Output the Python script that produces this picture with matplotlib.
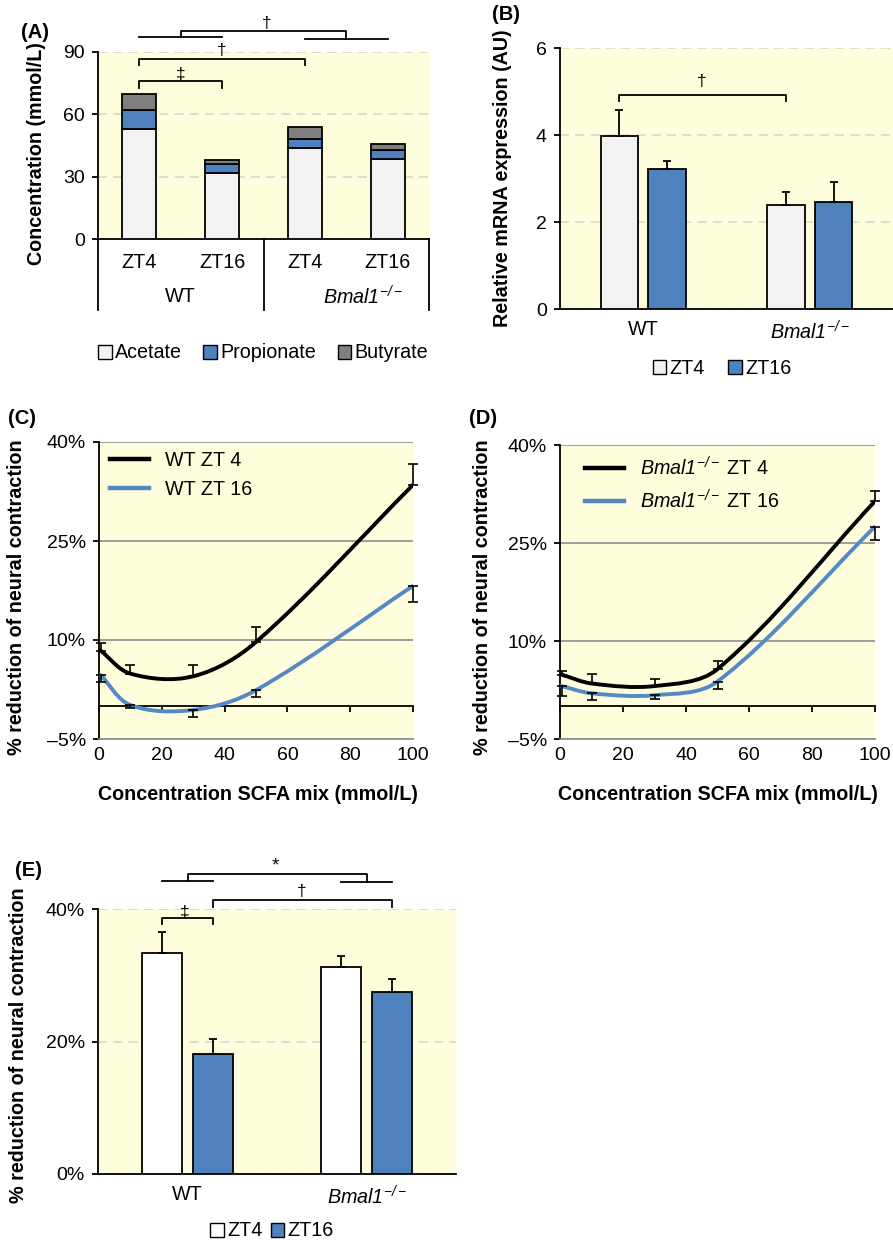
import numpy as np
import matplotlib
matplotlib.use('Agg')
import matplotlib.pyplot as plt
from matplotlib.path import Path
from matplotlib.patches import PathPatch, Patch
from matplotlib.lines import Line2D

plt.rcParams['font.family'] = ['Liberation Sans', 'DejaVu Sans']
plt.rcParams['mathtext.fontset'] = 'custom'
# mathtext only used for the italic gene name, digits included
plt.rcParams['mathtext.rm'] = 'Liberation Sans:italic'
plt.rcParams['mathtext.it'] = 'Liberation Sans:italic'
plt.rcParams['mathtext.bf'] = 'Liberation Sans:bold'
plt.rcParams['font.size'] = 14

KO = r'$\mathit{Bmal1}^{-/-}$'

# ---- data ----
# (A) faecal SCFA concentrations
scfa_times = ['ZT4', 'ZT16', 'ZT4', 'ZT16']
scfa_genos = ['WT', KO]
acetate = [53.0, 32.0, 43.6, 38.5]
propionate = [9.0, 4.3, 4.6, 4.2]
butyrate = [7.8, 1.6, 5.8, 2.8]

# (B) relative mRNA expression
genotypes = ['WT', KO]
mrna_zt4 = [3.97, 2.38]
mrna_zt4_err = [0.60, 0.31]
mrna_zt16 = [3.22, 2.47]
mrna_zt16_err = [0.18, 0.46]

# (C), (D) dose response
conc = [0.5, 10, 30, 50, 100]
wt_zt4 = [8.4, 4.9, 4.5, 9.7, 33.5]
wt_zt4_err = [1.1, 1.3, 1.7, 2.2, 3.2]
wt_zt16 = [4.7, 0.15, -0.6, 2.4, 18.2]
wt_zt16_err = [1.0, 0.5, 1.0, 1.0, 2.4]
ko_zt4 = [4.85, 3.5, 3.1, 5.7, 31.4]
ko_zt4_err = [0.55, 1.4, 1.1, 1.2, 1.6]
ko_zt16 = [3.1, 2.0, 1.7, 3.8, 27.5]
ko_zt16_err = [1.5, 1.1, 0.6, 1.2, 2.0]

# (E) reduction of neural contraction at 100 mmol/L
contr_zt4 = [33.4, 31.3]
contr_zt4_err = [3.2, 1.6]
contr_zt16 = [18.1, 27.4]
contr_zt16_err = [2.3, 2.0]

BG = '#fefedc'
BLUE = '#4f81bd'
LINE_BLUE = '#5489c6'
LIGHT = '#f2f2f2'
DARK = '#7f7f7f'
LW = 1.3
FS_TICK = 14
FS_LAB = 14.2

W, H = 893, 1240
fig = plt.figure(figsize=(W / 100, H / 100), dpi=100)


def add_axes_px(left, top, right, bottom):
    return fig.add_axes([left / W, 1 - bottom / H, (right - left) / W, (bottom - top) / H])


def style_bar_axes(ax):
    ax.set_facecolor(BG)
    for s in ['top', 'right']:
        ax.spines[s].set_visible(False)
    ax.spines['left'].set_linewidth(LW)
    ax.spines['bottom'].set_linewidth(LW)
    ax.tick_params(axis='y', direction='out', length=4.5, width=LW, labelsize=FS_TICK, pad=5)
    ax.tick_params(axis='x', length=0, labelsize=FS_TICK, pad=8)
    ax.yaxis.grid(True, linestyle=(0, (6, 4)), color='#d4d4d4', lw=1.1)
    ax.set_axisbelow(True)


def bracket(ax, x0, x1, y, drop):
    ax.plot([x0, x0, x1, x1], [y - drop, y, y, y - drop], color='black', lw=LW, clip_on=False)


def smooth_path(ax, xs, ys, xspan, yspan):
    # Excel-like smoothed line: cubic bezier through each point
    pos = ax.get_position()
    sx = pos.width * W / xspan
    sy = pos.height * H / yspan
    P = np.column_stack([np.asarray(xs, float) * sx, np.asarray(ys, float) * sy])
    n = len(P)
    verts = [P[0]]
    codes = [Path.MOVETO]
    for i in range(n - 1):
        p0 = P[max(i - 1, 0)]
        p1, p2 = P[i], P[i + 1]
        p3 = P[min(i + 2, n - 1)]
        arm = np.linalg.norm(p2 - p1) / 3
        t1 = (p2 - p0) / np.linalg.norm(p2 - p0)
        t2 = (p3 - p1) / np.linalg.norm(p3 - p1)
        verts += [p1 + arm * t1, p2 - arm * t2, p2]
        codes += [Path.CURVE4] * 3
    verts = np.array(verts) / [sx, sy]
    return Path(verts, codes)


# ---------------- (A) ----------------
axA = add_axes_px(98, 52, 429, 239)
style_bar_axes(axA)
xa = np.arange(len(acetate))
bw = 0.41
acetate_a = np.array(acetate)
prop_a = np.array(propionate)
axA.bar(xa, acetate_a, bw, color=LIGHT, edgecolor='black', lw=LW, zorder=3)
axA.bar(xa, prop_a, bw, bottom=acetate_a, color=BLUE, edgecolor='black', lw=LW, zorder=3)
axA.bar(xa, butyrate, bw, bottom=acetate_a + prop_a, color=DARK, edgecolor='black', lw=LW, zorder=3)
axA.set_xlim(-0.5, 3.5)
axA.set_ylim(0, 90)
axA.set_yticks([0, 30, 60, 90])
axA.set_xticks([])
tr = axA.get_xaxis_transform()
for i, t in enumerate(scfa_times):
    axA.text(i, -0.123, t, transform=tr, ha='center', va='center', fontsize=FS_LAB)
axA.text(0.5, -0.31, scfa_genos[0], transform=tr, ha='center', va='center', fontsize=FS_LAB)
axA.text(2.7, -0.31, scfa_genos[1], transform=tr, ha='center', va='center', fontsize=FS_LAB)
for xs in [-0.5, 1.5, 3.5]:
    axA.plot([xs, xs], [0, -0.38], transform=tr, color='black', lw=LW, clip_on=False)
bracket(axA, 0, 1, 76.0, 3.2)
axA.text(0.5, 79.5, '\u2021', ha='center', va='center', fontsize=12.5)
bracket(axA, 0, 2, 86.7, 2.8)
axA.text(1.0, 90.5, '\u2020', ha='center', va='center', fontsize=12.5)
axA.plot([0, 1], [97.4, 97.4], color='black', lw=LW, clip_on=False)
axA.plot([2, 3], [96.3, 96.3], color='black', lw=LW, clip_on=False)
axA.plot([0.5, 0.5, 2.5, 2.5], [97.4, 100.3, 100.3, 96.3], color='black', lw=LW, clip_on=False)
axA.text(1.54, 103.5, '\u2020', ha='center', va='center', fontsize=12.5)
fig.text(37 / W, 1 - 154 / H, 'Concentration (mmol/L)', rotation=90, ha='center', va='center',
         fontsize=FS_LAB, fontweight='bold')
fig.text(35 / W, 1 - 33 / H, '(A)', ha='center', va='center', fontsize=14.5, fontweight='bold')
handles = [Patch(facecolor=c, edgecolor='black', lw=1.0) for c in (LIGHT, BLUE, DARK)]
fig.legend(handles, ['Acetate', 'Propionate', 'Butyrate'], loc='center', bbox_to_anchor=(263 / W, 1 - 353 / H),
           ncol=3, frameon=False, fontsize=FS_LAB, handlelength=0.7, handleheight=0.7,
           handletextpad=0.15, columnspacing=1.1, borderpad=0)

# ---------------- (B) ----------------
axB = add_axes_px(560, 48, 893, 309)
style_bar_axes(axB)
xb = np.arange(len(genotypes))
off, bw2 = 0.143, 0.225
ekw = dict(ecolor='black', elinewidth=LW, capsize=2.8, capthick=LW, zorder=4)
axB.bar(xb - off, mrna_zt4, bw2, color=LIGHT, edgecolor='black', lw=LW, zorder=3,
        yerr=[np.zeros(len(mrna_zt4)), mrna_zt4_err], error_kw=ekw)
axB.bar(xb + off, mrna_zt16, bw2, color=BLUE, edgecolor='black', lw=LW, zorder=3,
        yerr=[np.zeros(len(mrna_zt16)), mrna_zt16_err], error_kw=ekw)
axB.set_xlim(-0.5, 1.5)
axB.set_ylim(0, 6)
axB.set_yticks([0, 2, 4, 6])
axB.set_xticks(xb)
axB.set_xticklabels(genotypes, fontsize=FS_LAB)
bracket(axB, -off, 1 - off, 4.93, 0.14)
axB.text(0.353, 5.22, '\u2020', ha='center', va='center', fontsize=12.5)
fig.text(503 / W, 1 - 178 / H, 'Relative mRNA expression (AU)', rotation=90, ha='center', va='center',
         fontsize=FS_LAB, fontweight='bold')
fig.text(506 / W, 1 - 15 / H, '(B)', ha='center', va='center', fontsize=14.5, fontweight='bold')
handles = [Patch(facecolor=c, edgecolor='black', lw=1.0) for c in (LIGHT, BLUE)]
fig.legend(handles, ['ZT4', 'ZT16'], loc='center', bbox_to_anchor=(722 / W, 1 - 368 / H),
           ncol=2, frameon=False, fontsize=FS_LAB, handlelength=0.7, handleheight=0.7,
           handletextpad=0.15, columnspacing=1.2, borderpad=0)


# ---------------- (C), (D) ----------------
def line_panel(ax, s4, e4, s16, e16, labels, anchor):
    ax.set_facecolor(BG)
    ax.set_xlim(0, 100)
    ax.set_ylim(-5, 40)
    ax.set_xticks(range(0, 101, 20))
    ax.set_yticks([-5, 10, 25, 40])
    ax.set_yticklabels(['\u20135%', '10%', '25%', '40%'])
    ax.spines['right'].set_visible(False)
    ax.spines['bottom'].set_color('#8c8c8c')
    ax.spines['bottom'].set_linewidth(1.2)
    ax.spines['left'].set_linewidth(LW)
    ax.spines['top'].set_position(('data', 0))
    ax.spines['top'].set_linewidth(LW)
    ax.tick_params(axis='x', top=True, bottom=False, labeltop=False, labelbottom=True,
                   direction='in', length=4.5, width=LW, labelsize=FS_TICK, pad=6)
    ax.tick_params(axis='y', direction='out', length=4.5, width=LW, labelsize=FS_TICK, pad=5)
    ax.yaxis.grid(True, color='#8c8c8c', lw=1.2)
    ax.set_axisbelow(True)
    for ys, col in [(s4, 'black'), (s16, LINE_BLUE)]:
        ax.add_patch(PathPatch(smooth_path(ax, conc, ys, 100, 45), fill=False, edgecolor=col,
                               lw=2.8, capstyle='round', zorder=4))
    z = np.zeros(len(conc))
    ax.errorbar(conc, s4, yerr=[z, e4], fmt='none', ecolor='black', elinewidth=1.2,
                capsize=3.5, capthick=1.2, zorder=5, clip_on=False)
    ax.errorbar(conc, s16, yerr=[e16, z], fmt='none', ecolor='black', elinewidth=1.2,
                capsize=3.5, capthick=1.2, zorder=5, clip_on=False)
    hl = [Line2D([], [], color='black', lw=3.2), Line2D([], [], color=LINE_BLUE, lw=3.2)]
    ax.legend(hl, labels, loc='upper left', bbox_to_anchor=anchor, frameon=False, fontsize=FS_LAB,
              handlelength=2.0, handletextpad=0.8, labelspacing=0.5, borderpad=0, borderaxespad=0)


axC = add_axes_px(99, 442, 413, 739)
line_panel(axC, wt_zt4, wt_zt4_err, wt_zt16, wt_zt16_err, ['WT ZT 4', 'WT ZT 16'], (0.035, 0.97))
axD = add_axes_px(560, 445, 875, 739)
line_panel(axD, ko_zt4, ko_zt4_err, ko_zt16, ko_zt16_err, [KO + ' ZT 4', KO + ' ZT 16'], (0.079, 0.963))
for xc, xl in [(17, 258), (482, 718)]:
    fig.text(xc / W, 1 - 597 / H, '% reduction of neural contraction', rotation=90, ha='center',
             va='center', fontsize=FS_LAB, fontweight='bold')
    fig.text(xl / W, 1 - 795 / H, 'Concentration SCFA mix (mmol/L)', ha='center', va='center',
             fontsize=FS_LAB, fontweight='bold')
fig.text(22 / W, 1 - 418 / H, '(C)', ha='center', va='center', fontsize=14.5, fontweight='bold')
fig.text(483 / W, 1 - 418 / H, '(D)', ha='center', va='center', fontsize=14.5, fontweight='bold')

# ---------------- (E) ----------------
axE = add_axes_px(98, 909, 456, 1174)
style_bar_axes(axE)
xe = np.arange(len(contr_zt4))
off_e = 0.142
axE.bar(xe - off_e, contr_zt4, bw2, color='white', edgecolor='black', lw=LW, zorder=3,
        yerr=[np.zeros(len(contr_zt4)), contr_zt4_err], error_kw=ekw)
axE.bar(xe + off_e, contr_zt16, bw2, color=BLUE, edgecolor='black', lw=LW, zorder=3,
        yerr=[np.zeros(len(contr_zt16)), contr_zt16_err], error_kw=ekw)
axE.set_xlim(-0.5, 1.5)
axE.set_ylim(0, 40)
axE.set_yticks([0, 20, 40])
axE.set_yticklabels(['0%', '20%', '40%'])
axE.set_xticks(xe)
axE.set_xticklabels(genotypes, fontsize=FS_LAB)
bracket(axE, -off_e, off_e, 38.7, 1.0)
axE.text(-0.014, 39.6, '\u2021', ha='center', va='center', fontsize=12.5)
bracket(axE, off_e, 1 + off_e, 41.4, 1.15)
axE.text(0.64, 42.6, '\u2020', ha='center', va='center', fontsize=12.5)
axE.plot([-off_e, off_e], [44.2, 44.2], color='black', lw=LW, clip_on=False)
axE.plot([1 - off_e, 1 + off_e], [44.1, 44.1], color='black', lw=LW, clip_on=False)
axE.plot([0, 0, 1, 1], [44.2, 45.3, 45.3, 44.1], color='black', lw=LW, clip_on=False)
axE.text(0.49, 46.5, '*', ha='center', va='center', fontsize=13.5)
fig.text(19 / W, 1 - 1045 / H, '% reduction of neural contraction', rotation=90, ha='center',
         va='center', fontsize=FS_LAB, fontweight='bold')
fig.text(28 / W, 1 - 870 / H, '(E)', ha='center', va='center', fontsize=14.5, fontweight='bold')
handles = [Patch(facecolor=c, edgecolor='black', lw=1.0) for c in ('white', BLUE)]
fig.legend(handles, ['ZT4', 'ZT16'], loc='center', bbox_to_anchor=(272 / W, 1 - 1231 / H),
           ncol=2, frameon=False, fontsize=FS_LAB, handlelength=0.7, handleheight=0.7,
           handletextpad=0.15, columnspacing=0.4, borderpad=0)

fig.savefig('out.png', dpi=100)
